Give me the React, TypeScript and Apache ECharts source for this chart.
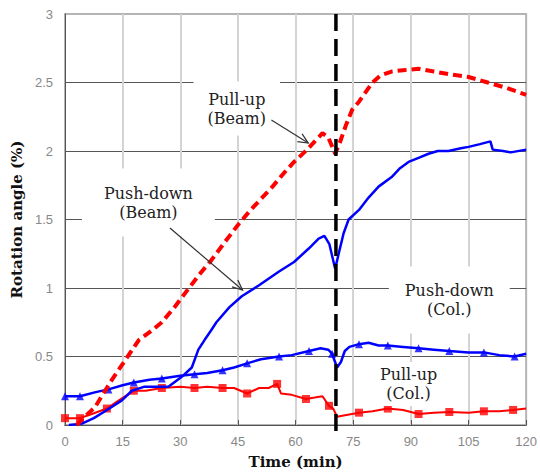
import React, { useEffect, useRef } from "react";
import * as echarts from "echarts";

const xTicks = [0, 15, 30, 45, 60, 75, 90, 105, 120];
const yTicks = [0, 0.5, 1, 1.5, 2, 2.5, 3];

// Pull-up (Beam) — red dashed
const pullUpBeam: [number, number][] = [
  [3, 0], [5.5, 0.07], [7.8, 0.13], [10, 0.23], [12.2, 0.33], [15.6, 0.47], [19.2, 0.62], [22.6, 0.69],
  [25.2, 0.75], [28.5, 0.86], [32, 0.99], [35, 1.1], [38, 1.2], [42, 1.35], [45, 1.46],
  [48, 1.56], [51, 1.65], [54, 1.74], [57, 1.84], [59.6, 1.92], [63, 2.01], [65, 2.07], [67, 2.13],
  [68.5, 2.1], [70.3, 1.98], [71.5, 2.06], [73, 2.18], [74.7, 2.3], [76.5, 2.36], [78, 2.42],
  [80, 2.5], [82, 2.55], [85, 2.58], [88, 2.59], [92, 2.6], [96, 2.58], [100, 2.56], [105, 2.54],
  [110, 2.5], [115, 2.46], [120, 2.41],
];

// Push-down (Beam) — blue solid
const pushDownBeam: [number, number][] = [
  [1, 0], [4.4, 0.01], [7.5, 0.05], [10.4, 0.1], [14.8, 0.18], [17.4, 0.25], [20.7, 0.28],
  [26.9, 0.28], [30.3, 0.35], [33, 0.42], [34.7, 0.55], [36.3, 0.62], [38, 0.69], [39.4, 0.75],
  [42.8, 0.86], [46, 0.94], [50.5, 1.02], [55.7, 1.12], [59.6, 1.19], [63.5, 1.29], [66, 1.36],
  [67.5, 1.38], [68.8, 1.32], [70.3, 1.14], [71.3, 1.26], [72.5, 1.4], [73.8, 1.5], [76.5, 1.57],
  [79, 1.66], [81.6, 1.74], [85, 1.81], [87, 1.87], [89.4, 1.92], [92, 1.95], [94.6, 1.98],
  [97, 2.0], [99.8, 2.0], [103, 2.02], [105, 2.03], [108, 2.05], [110.7, 2.07], [111.3, 2.01],
  [114, 2.0], [116, 1.99], [120, 2.01],
];

// Push-down (Col.) — blue with triangles
const pushDownCol: [number, number][] = [
  [0, 0.21], [3.9, 0.21], [8, 0.24], [11.3, 0.26], [15, 0.29], [17.9, 0.31], [22, 0.33], [25.2, 0.34],
  [30, 0.36], [33.7, 0.37], [37, 0.38], [41, 0.4], [44, 0.42], [47.4, 0.45], [51, 0.48], [55.7, 0.5],
  [59, 0.51], [63.5, 0.54], [66.5, 0.56], [68.5, 0.55], [69.5, 0.52], [70.8, 0.42], [71.8, 0.46],
  [72.8, 0.54], [74, 0.57], [76.5, 0.59], [79, 0.6], [81.6, 0.58], [84, 0.58], [88, 0.57], [92, 0.56],
  [96, 0.55], [100, 0.54], [105, 0.53], [109, 0.53], [113, 0.51], [117, 0.5], [120, 0.52],
];
const pushDownColMarkTimes = [0, 3.9, 11.3, 17.9, 25.2, 33.7, 41, 47.4, 55.7, 63.5, 69.5, 76.5, 84, 92, 100, 109, 117];

// Pull-up (Col.) — red with squares
const pullUpCol: [number, number][] = [
  [0, 0.05], [3.9, 0.05], [7, 0.08], [10.9, 0.12], [14, 0.18], [17.9, 0.25], [21, 0.25], [25.2, 0.27],
  [30, 0.28], [33.7, 0.27], [37, 0.28], [41, 0.27], [44, 0.27], [47.4, 0.23], [50.5, 0.27], [53, 0.27],
  [55.2, 0.3], [56.2, 0.23], [59, 0.22], [62.7, 0.19], [65, 0.2], [67, 0.21], [68.7, 0.14], [69.8, 0.12],
  [70.8, 0.06], [72.5, 0.07], [76.5, 0.09], [80, 0.1], [84, 0.12], [88, 0.11], [92, 0.08], [96, 0.09],
  [100, 0.095], [105, 0.09], [109, 0.1], [113, 0.1], [116.6, 0.11], [120, 0.12],
];
const pullUpColMarkTimes = [0, 3.9, 10.9, 17.9, 25.2, 33.7, 41, 47.4, 55.2, 62.7, 68.7, 76.5, 84, 92, 100, 109, 116.6];

const eventTime = 70.5;

// annotations: text, center (min, %), padding
const annotations: { text: string; x: number; y: number; pad: number[] }[] = [
  { text: "Pull-up\n(Beam)", x: 44.7, y: 2.31, pad: [8, 14, 8, 14] },
  { text: "Push-down\n(Beam)", x: 21.7, y: 1.624, pad: [12, 22, 18, 22] },
  { text: "Push-down\n(Col.)", x: 100, y: 0.912, pad: [18, 16, 11, 16] },
  { text: "Pull-up\n(Col.)", x: 89.4, y: 0.3, pad: [3, 8, 3, 8] },
];
const arrows: [number, number, number, number][] = [
  [53.7, 2.226, 63.3, 2.058],
  [27.3, 1.438, 46.2, 0.985],
];

const pick = (data: [number, number][], times: number[]) =>
  times.map((t) => data.find((d) => d[0] === t)!).filter(Boolean);

export default function App() {
  const ref = useRef<HTMLDivElement>(null);
  useEffect(() => {
    const chart = echarts.init(ref.current!, null, { renderer: "svg" });
    const labelFont = "Liberation Sans";
    chart.setOption({
      animation: false,
      grid: { left: 65, right: 13, top: 14, bottom: 49, show: true, borderColor: "#b4b4b4", borderWidth: 2 },
      xAxis: {
        type: "value",
        min: 0,
        max: 120,
        interval: 15,
        name: "Time (min)",
        nameLocation: "middle",
        nameGap: 29,
        nameTextStyle: { fontFamily: "DejaVu Serif", fontWeight: "bold", fontSize: 15, color: "#111" },
        axisLine: { show: true, lineStyle: { color: "#555", width: 1 } },
        axisTick: { show: true, inside: true, length: 5, lineStyle: { color: "#555" } },
        axisLabel: { color: "#888", fontSize: 13, margin: 10, fontFamily: labelFont, formatter: (v: number) => (xTicks.includes(v) ? String(v) : "") },
        splitLine: { show: true, showMinLine: false, showMaxLine: false, lineStyle: { color: "#d4d4d4", width: 2 } },
      },
      yAxis: {
        type: "value",
        min: 0,
        max: 3,
        interval: 0.5,
        name: "Rotation angle (%)",
        nameLocation: "middle",
        nameGap: 34,
        nameRotate: 90,
        nameTextStyle: { fontFamily: "DejaVu Serif", fontWeight: "bold", fontSize: 15, color: "#111" },
        axisLine: { show: true, lineStyle: { color: "#555", width: 1 } },
        axisTick: { show: false },
        axisLabel: { color: "#888", fontSize: 13, margin: 12, fontFamily: labelFont, formatter: (v: number) => (yTicks.includes(v) ? String(v) : "") },
        splitLine: { show: true, showMinLine: false, showMaxLine: false, lineStyle: { color: "#555", width: 1 } },
      },
      series: [
        { name: "Pull-up (Col.)", type: "line", data: pullUpCol, showSymbol: false, lineStyle: { color: "#ff0000", width: 2 }, itemStyle: { color: "#ff0000" }, z: 3 },
        { name: "Pull-up (Col.) marks", type: "scatter", data: pick(pullUpCol, pullUpColMarkTimes), symbol: "rect", symbolSize: 8, itemStyle: { color: "#ff0000" }, z: 3 },
        { name: "Push-down (Col.)", type: "line", data: pushDownCol, showSymbol: false, lineStyle: { color: "#0000ff", width: 2.5 }, itemStyle: { color: "#0000ff" }, z: 4 },
        { name: "Push-down (Col.) marks", type: "scatter", data: pick(pushDownCol, pushDownColMarkTimes), symbol: "triangle", symbolSize: 8, itemStyle: { color: "#0000ff" }, z: 4 },
        { name: "Push-down (Beam)", type: "line", data: pushDownBeam, showSymbol: false, lineStyle: { color: "#0000ff", width: 2.5 }, itemStyle: { color: "#0000ff" }, z: 4 },
        { name: "Pull-up (Beam)", type: "line", data: pullUpBeam, showSymbol: false, lineStyle: { color: "#ff0000", width: 4, type: [9, 5] }, itemStyle: { color: "#ff0000" }, z: 5 },
      ],
    });

    const toPx = (x: number, y: number) => chart.convertToPixel({ gridIndex: 0 }, [x, y]) as number[];
    const graphics: any[] = [];
    annotations.forEach((a) => {
      const [cx, cy] = toPx(a.x, a.y);
      graphics.push({
        type: "text",
        x: cx,
        y: cy,
        z: 10,
        style: {
          text: a.text,
          fontFamily: "DejaVu Serif",
          fontSize: 16,
          fill: "#222",
          align: "center",
          verticalAlign: "middle",
          lineHeight: 19,
          backgroundColor: "#fff",
          padding: a.pad,
        },
      });
    });
    arrows.forEach(([x1, y1, x2, y2]) => {
      const [sx, sy] = toPx(x1, y1);
      const [ex, ey] = toPx(x2, y2);
      const ang = Math.atan2(ey - sy, ex - sx);
      const L = 11;
      const spread = 0.42;
      const p1 = [ex - L * Math.cos(ang - spread), ey - L * Math.sin(ang - spread)];
      const p2 = [ex - L * Math.cos(ang + spread), ey - L * Math.sin(ang + spread)];
      graphics.push({ type: "line", z: 12, shape: { x1: sx, y1: sy, x2: ex, y2: ey }, style: { stroke: "#333", lineWidth: 1.2 } });
      graphics.push({ type: "polyline", z: 12, shape: { points: [p1, [ex, ey], p2] }, style: { stroke: "#333", lineWidth: 1.2, fill: null } });
    });
    const [vx, vTop] = toPx(eventTime, 3);
    const [, vBot] = toPx(eventTime, 0);
    graphics.push({
      type: "line",
      z: 20,
      shape: { x1: vx, y1: vTop, x2: vx, y2: vBot + 7 },
      style: { stroke: "#000", lineWidth: 3.5, lineDash: [17, 8] },
    });
    chart.setOption({ graphic: graphics });
    return () => chart.dispose();
  }, []);
  return <div ref={ref} style={{ position: "absolute", left: 0, top: 0, width: 540, height: 474 }} />;
}
